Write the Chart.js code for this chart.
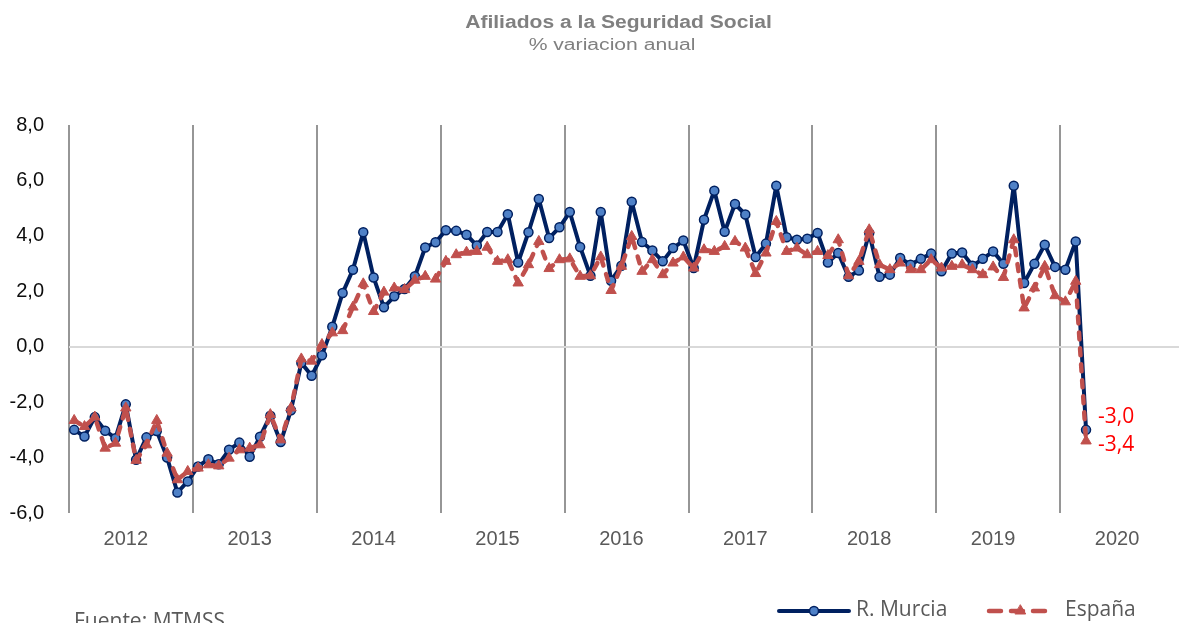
<!DOCTYPE html>
<html>
<head>
<meta charset="utf-8">
<script src="https://cdn.jsdelivr.net/npm/chart.js@4/dist/chart.umd.min.js"></script>
<style>
  html, body { margin: 0; padding: 0; background: #fff; overflow: hidden; }
  #wrap { position: relative; width: 1193px; height: 623px; }
</style>
</head>
<body>
<div id="wrap"><canvas id="chart"></canvas></div>
<script>
const years = ['2012', '2013', '2014', '2015', '2016', '2017', '2018', '2019', '2020'];
const monthNames = ['ene', 'feb', 'mar', 'abr', 'may', 'jun', 'jul', 'ago', 'sep', 'oct', 'nov', 'dic'];
const months = [];
years.forEach(y => monthNames.forEach(m => months.push(m + '-' + y.slice(2))));

// % variacion anual, ene-2012 .. mar-2020
const murcia = [
  -3.00, -3.24, -2.54, -3.03, -3.30, -2.08, -4.08, -3.27, -3.04, -4.00, -5.26, -4.86,
  -4.32, -4.06, -4.24, -3.72, -3.46, -3.97, -3.25, -2.49, -3.44, -2.29, -0.58, -1.05,
  -0.31, 0.72, 1.94, 2.78, 4.13, 2.50, 1.42, 1.82, 2.08, 2.54, 3.58, 3.77,
  4.20, 4.18, 4.04, 3.65, 4.14, 4.14, 4.78, 3.04, 4.13, 5.33, 3.92, 4.31,
  4.86, 3.60, 2.56, 4.86, 2.38, 2.92, 5.23, 3.78, 3.47, 3.08, 3.56, 3.83,
  2.84, 4.58, 5.63, 4.15, 5.15, 4.77, 3.24, 3.72, 5.81, 3.95, 3.86, 3.90,
  4.10, 3.04, 3.38, 2.52, 2.75, 4.10, 2.52, 2.60, 3.20, 2.96, 3.17, 3.36,
  2.72, 3.36, 3.40, 2.92, 3.17, 3.44, 2.99, 5.81, 2.30, 2.99, 3.68, 2.88,
  2.78, 3.80, -3.0
];
const espana = [
  -2.66, -2.88, -2.54, -3.66, -3.48, -2.21, -4.10, -3.54, -2.66, -3.84, -4.80, -4.50,
  -4.38, -4.26, -4.30, -4.02, -3.72, -3.66, -3.54, -2.45, -3.36, -2.21, -0.44, -0.52,
  0.08, 0.50, 0.58, 1.43, 2.27, 1.27, 1.97, 2.12, 2.06, 2.40, 2.54, 2.44,
  3.08, 3.32, 3.41, 3.44, 3.59, 3.08, 3.14, 2.30, 2.96, 3.80, 2.82, 3.14,
  3.17, 2.54, 2.56, 3.24, 2.03, 2.90, 3.98, 2.72, 3.14, 2.60, 3.02, 3.24,
  2.84, 3.50, 3.44, 3.62, 3.80, 3.56, 2.64, 3.38, 4.52, 3.44, 3.56, 3.32,
  3.44, 3.29, 3.86, 2.56, 3.08, 4.22, 2.96, 2.78, 3.02, 2.78, 2.78, 3.14,
  2.84, 2.90, 2.96, 2.78, 2.60, 2.88, 2.50, 3.86, 1.40, 2.12, 2.90, 1.84,
  1.62, 2.36, -3.4
];

const calibriLike = '"Open Sans", "Noto Sans", sans-serif';
const arialLike = '"Liberation Sans", Arial, sans-serif';

function fmt(v) {
  return v.toFixed(1).replace('.', ',');
}

// text a bit wider than the font, as in the original
function stretchedText(ctx, text, cx, y, sx) {
  ctx.save();
  ctx.translate(cx, y);
  ctx.scale(sx, 1);
  ctx.fillText(text, 0, 0);
  ctx.restore();
}

function drawLegendItem(ctx, ds, x0, x1, y, text, textX) {
  ctx.save();
  ctx.strokeStyle = ds.borderColor;
  ctx.lineWidth = ds.borderWidth;
  ctx.lineCap = 'round';
  ctx.setLineDash(ds.borderDash ? [12, 10] : []);
  ctx.beginPath();
  ctx.moveTo(x0, y);
  ctx.lineTo(x1, y);
  ctx.stroke();
  ctx.setLineDash([]);
  ctx.fillStyle = ds.pointBackgroundColor;
  ctx.strokeStyle = ds.pointBorderColor;
  ctx.lineWidth = ds.pointBorderWidth;
  Chart.helpers.drawPoint(ctx, {
    pointStyle: ds.pointStyle,
    radius: ds.pointRadius,
    rotation: 0,
    borderWidth: ds.pointBorderWidth
  }, (x0 + x1) / 2, y);
  ctx.fillStyle = '#595959';
  ctx.font = '21px ' + calibriLike;
  ctx.textAlign = 'left';
  ctx.textBaseline = 'middle';
  ctx.fillText(text, textX, y - 1);
  ctx.restore();
}

const annotate = {
  id: 'annotate',
  afterDraw(chart) {
    const ctx = chart.ctx;
    ctx.save();
    ctx.textAlign = 'center';
    ctx.textBaseline = 'alphabetic';
    ctx.fillStyle = '#808080';
    ctx.font = 'bold 18px ' + arialLike;
    stretchedText(ctx, 'Afiliados a la Seguridad Social', 618.5, 27.5, 1.17);
    ctx.font = '16px ' + arialLike;
    stretchedText(ctx, '% variacion anual', 612, 50, 1.32);

    // last value labels
    ctx.textAlign = 'left';
    ctx.textBaseline = 'middle';
    ctx.font = '21px ' + calibriLike;
    ctx.fillStyle = '#ff0000';
    chart.data.datasets.forEach((ds, i) => {
      const pts = chart.getDatasetMeta(i).data;
      const p = pts[pts.length - 1];
      ctx.fillText(fmt(ds.data[ds.data.length - 1]), p.x + 12, p.y + ds.labelDy);
    });

    ctx.fillStyle = '#595959';
    ctx.textBaseline = 'alphabetic';
    ctx.fillText('Fuente: MTMSS', 74, 628);
    ctx.restore();

    const sets = chart.data.datasets;
    drawLegendItem(ctx, sets[0], 779, 849, 611, 'R. Murcia', 856);
    drawLegendItem(ctx, sets[1], 989, 1052, 611, 'España', 1065);
  }
};

new Chart(document.getElementById('chart'), {
  type: 'line',
  data: {
    labels: months,
    datasets: [
      {
        label: 'R. Murcia',
        data: murcia,
        borderColor: '#002060',
        borderWidth: 4,
        borderJoinStyle: 'round',
        pointStyle: 'circle',
        pointRadius: 4.5,
        pointBackgroundColor: '#4f81c7',
        pointBorderColor: '#002060',
        pointBorderWidth: 1.5,
        tension: 0,
        order: 1,
        labelDy: -13
      },
      {
        label: 'España',
        data: espana,
        borderColor: '#c0504d',
        borderWidth: 4.5,
        borderDash: [7, 9],
        borderCapStyle: 'round',
        borderJoinStyle: 'round',
        pointStyle: 'triangle',
        pointRadius: 6,
        pointBackgroundColor: '#c0504d',
        pointBorderColor: '#c0504d',
        pointBorderWidth: 1,
        tension: 0,
        order: 0,
        labelDy: 4
      }
    ]
  },
  options: {
    responsive: true,
    maintainAspectRatio: false,
    animation: false,
    layout: {
      padding: { top: 125, right: 0, bottom: 70, left: 0 }
    },
    plugins: {
      legend: { display: false },
      tooltip: { enabled: false }
    },
    scales: {
      x: {
        type: 'category',
        offset: true,
        afterFit(scale) { scale.height = 40; },
        grid: {
          offset: true,
          drawTicks: false,
          lineWidth: 2,
          color(ctx) {
            return ctx.index % 12 === 0 ? '#969696' : 'rgba(0,0,0,0)';
          }
        },
        border: { display: false },
        ticks: {
          autoSkip: false,
          maxRotation: 0,
          padding: 14,
          color: '#595959',
          font: { family: arialLike, size: 20 },
          callback(value, index) {
            return index % 12 === 5 ? years[Math.floor(index / 12)] : '';
          }
        }
      },
      y: {
        min: -6,
        max: 8,
        afterFit(scale) { scale.width = 69; },
        grid: {
          drawTicks: false,
          lineWidth: 2,
          color(ctx) {
            return ctx.tick && ctx.tick.value === 0 ? '#d9d9d9' : 'rgba(0,0,0,0)';
          }
        },
        border: { display: false },
        ticks: {
          stepSize: 2,
          padding: 25,
          color: '#0d0d0d',
          font: { family: arialLike, size: 20 },
          callback(value) { return fmt(value); }
        }
      }
    }
  },
  plugins: [annotate]
});
</script>
</body>
</html>
